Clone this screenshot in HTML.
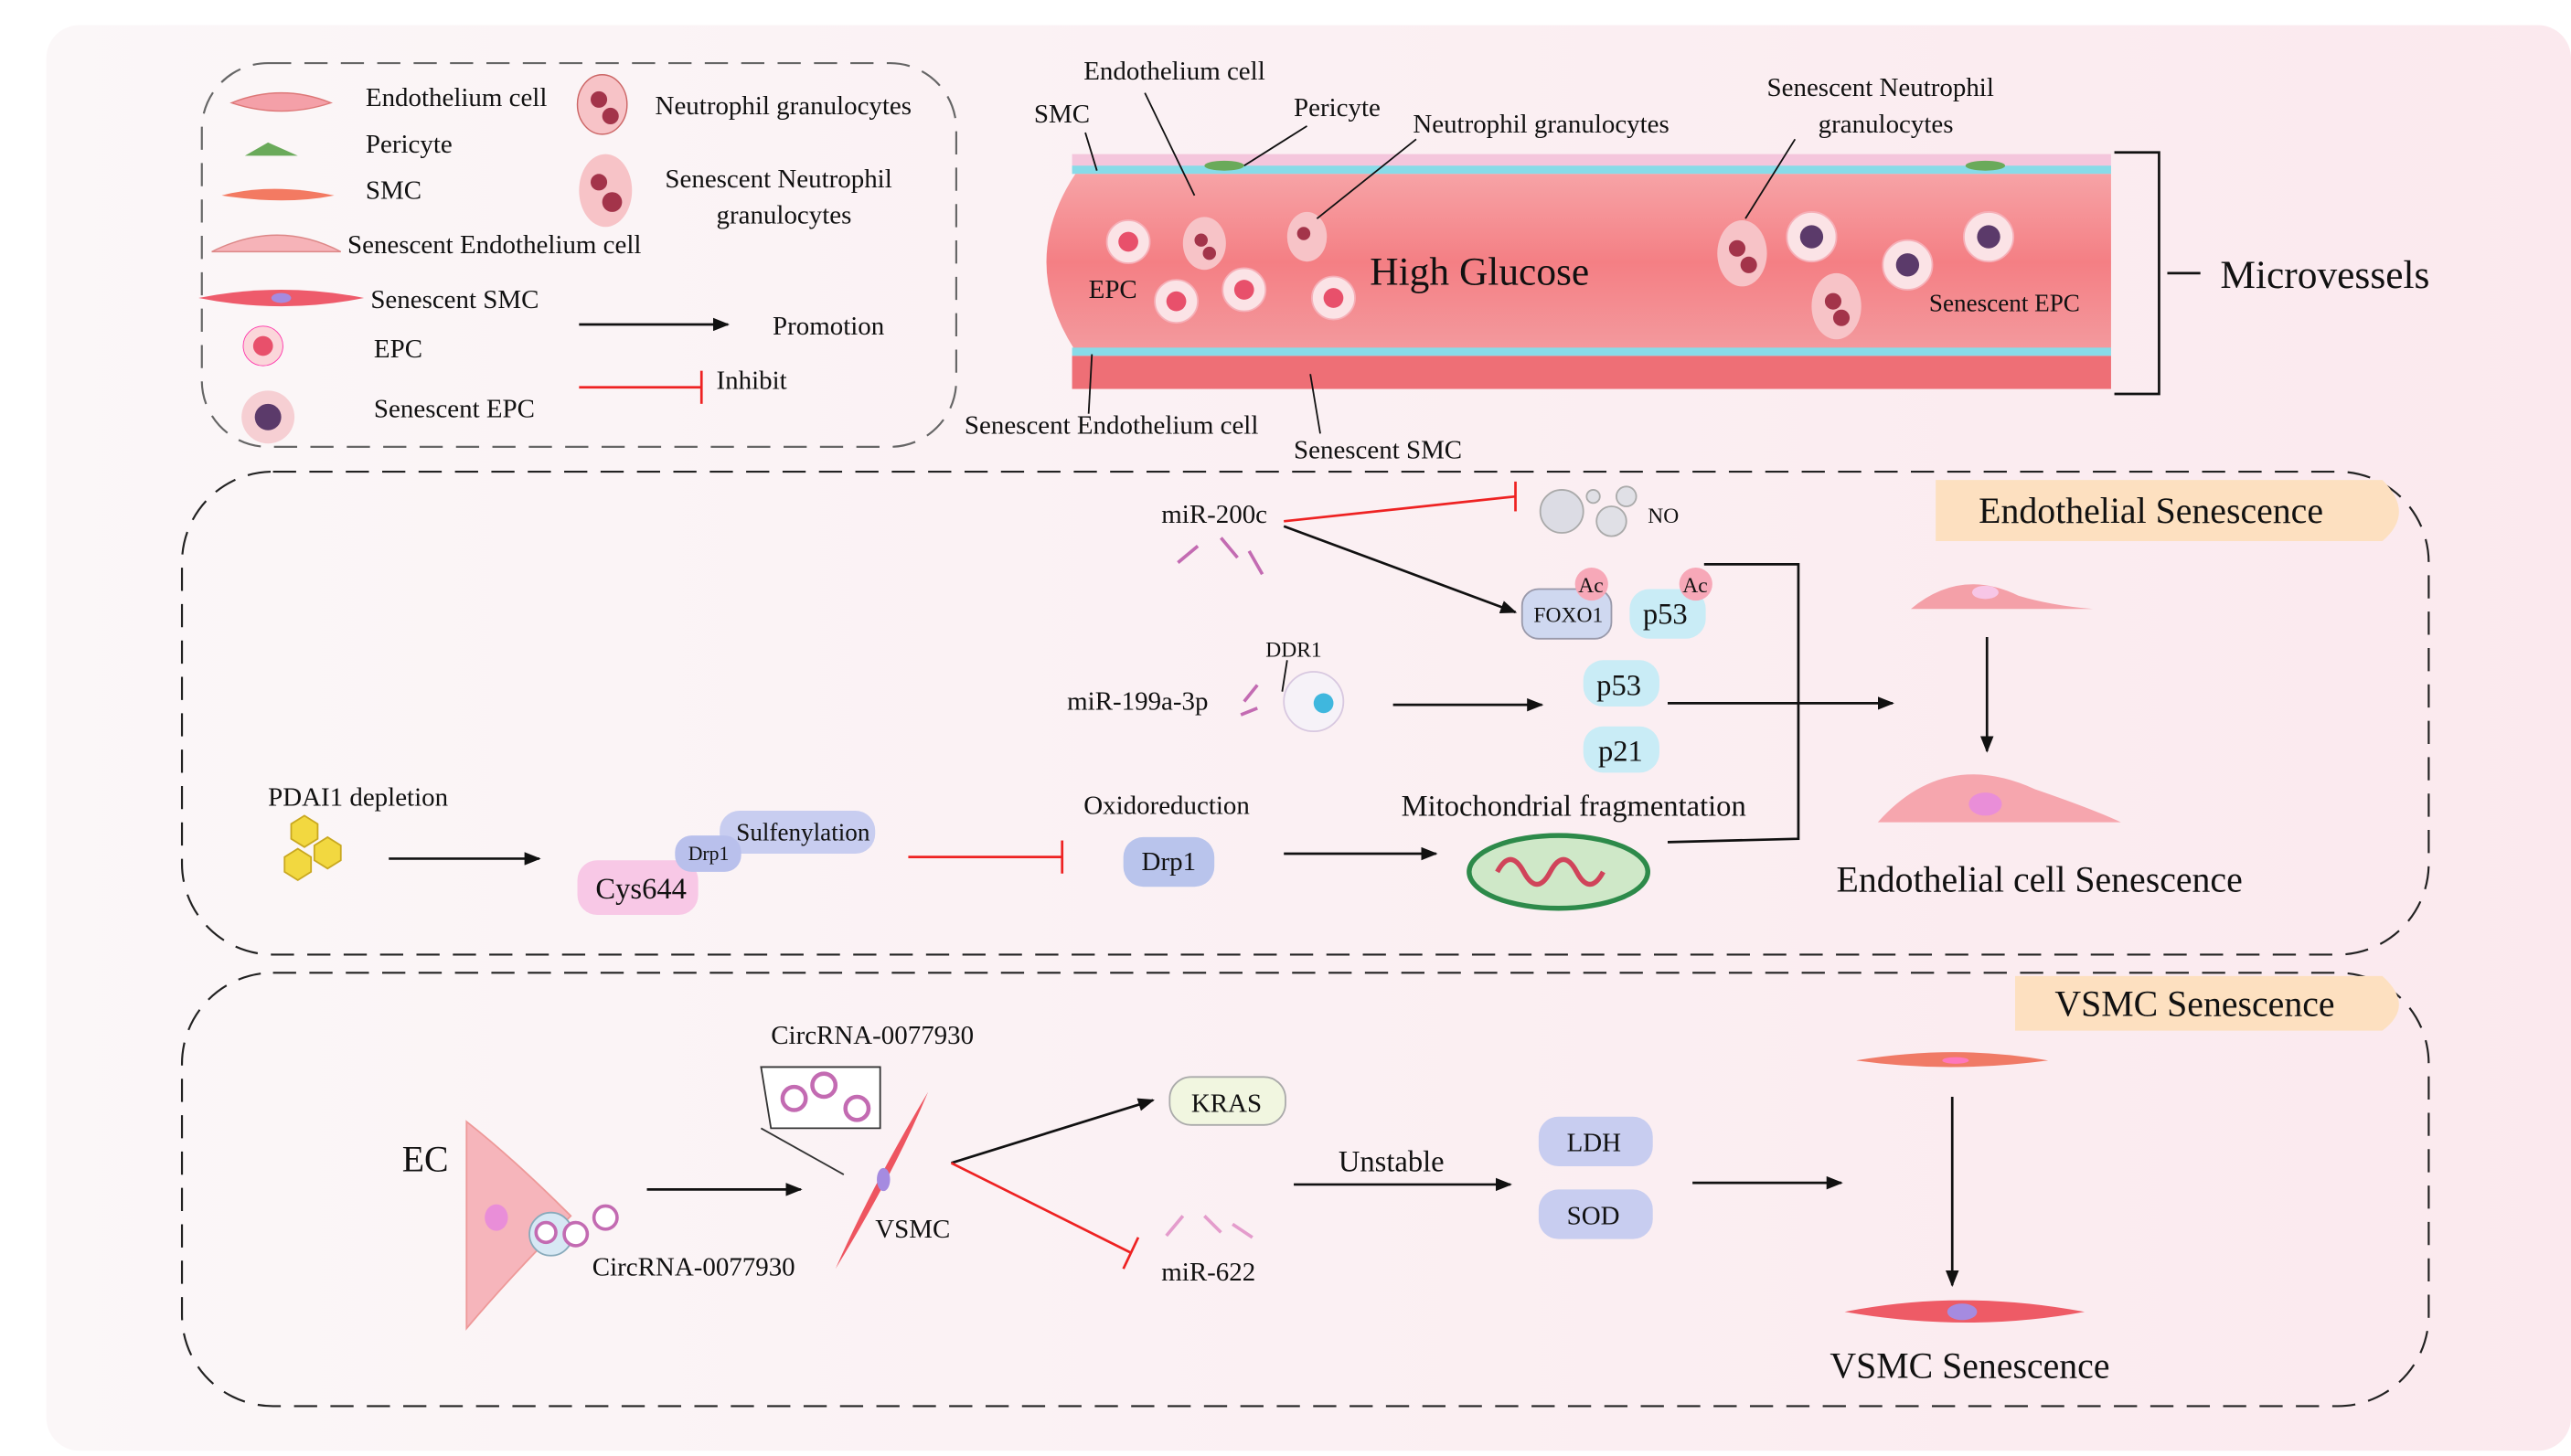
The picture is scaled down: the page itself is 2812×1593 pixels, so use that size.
<!DOCTYPE html>
<html><head><meta charset="utf-8"><style>
html,body{margin:0;padding:0;background:#fff;}
svg{display:block;}
text{font-family:"Liberation Serif",serif;fill:#111;}
</style></head><body>
<svg width="2812" height="1593" viewBox="0 0 1554 880" xmlns="http://www.w3.org/2000/svg">
<defs>
<linearGradient id="bg" x1="0" x2="1" y1="0" y2="0"><stop offset="0" stop-color="#fbf7f8"/><stop offset="1" stop-color="#fbe9ee"/></linearGradient>
<linearGradient id="ves" x1="0" x2="0" y1="0" y2="1"><stop offset="0" stop-color="#f7a3a6"/><stop offset="0.5" stop-color="#f47f84"/><stop offset="1" stop-color="#f39a9e"/></linearGradient>
<marker id="ar" markerWidth="10" markerHeight="8" refX="9" refY="4" orient="auto" markerUnits="userSpaceOnUse"><path d="M0,0 L10,4 L0,8 Z" fill="#111"/></marker>
</defs>
<rect x="0" y="0" width="1554" height="880" fill="#fff"/>
<rect x="28" y="15" width="1526" height="862" rx="20" fill="url(#bg)"/>
<!-- legend box -->
<rect x="122" y="38" width="456" height="232" rx="40" fill="none" stroke="#666" stroke-dasharray="14,8" stroke-width="1.2"/>
<g font-size="16">
<path d="M140,62 q30,-12 60,0 q-30,10 -60,0z" fill="#f4a0a8" stroke="#d77" stroke-width="0.8"/>
<text x="221" y="64">Endothelium cell</text>
<path d="M148,94 l14,-8 l18,8z" fill="#6aaa5a"/>
<text x="221" y="92">Pericyte</text>
<path d="M134,118 q30,-8 68,0 q-30,6 -68,0z" fill="#f37a62"/>
<text x="221" y="120">SMC</text>
<path d="M128,152 q40,-20 78,0 l-78,0z" fill="#f6b3b8" stroke="#d88" stroke-width="0.8"/>
<text x="210" y="153">Senescent Endothelium cell</text>
<path d="M120,180 q50,-10 100,0 q-50,10 -100,0z" fill="#ee5b6b"/>
<ellipse cx="170" cy="180" rx="6" ry="3" fill="#a58be0"/>
<text x="224" y="186">Senescent SMC</text>
<circle cx="159" cy="209" r="12" fill="#fbd6da" stroke="#f3a" stroke-width="0.5"/><circle cx="159" cy="209" r="6" fill="#e8506b"/>
<text x="226" y="216">EPC</text>
<circle cx="162" cy="252" r="16" fill="#f6cfd3"/><circle cx="162" cy="252" r="8" fill="#5b3a6a"/>
<text x="226" y="252">Senescent EPC</text>
<ellipse cx="364" cy="63" rx="15" ry="18" fill="#f7c3c7" stroke="#c66" stroke-width="0.8"/><circle cx="362" cy="60" r="5" fill="#a3344a"/><circle cx="369" cy="70" r="5" fill="#a3344a"/>
<text x="396" y="69">Neutrophil granulocytes</text>
<ellipse cx="366" cy="115" rx="16" ry="22" fill="#f7c3c7"/><circle cx="362" cy="110" r="5" fill="#a3344a"/><circle cx="370" cy="122" r="6" fill="#a3344a"/>
<text x="402" y="113">Senescent Neutrophil</text>
<text x="433" y="135">granulocytes</text>
<line x1="350" y1="196" x2="440" y2="196" stroke="#111" stroke-width="1.5" marker-end="url(#ar)"/>
<text x="467" y="202">Promotion</text>
<line x1="350" y1="234" x2="424" y2="234" stroke="#e22" stroke-width="1.5"/><line x1="424" y1="224" x2="424" y2="244" stroke="#e22" stroke-width="1.5"/>
<text x="433" y="235">Inhibit</text>
</g>
<!-- vessel -->
<rect x="648" y="93" width="628" height="10" fill="#f4c6dc"/>
<rect x="648" y="100" width="628" height="5" fill="#88dbe8"/>
<path d="M650,105 L1276,105 L1276,212 L650,212 Q615,158 650,105Z" fill="url(#ves)"/>
<rect x="648" y="210" width="628" height="5" fill="#88dbe8"/>
<rect x="648" y="215" width="628" height="20" fill="#ee6f76"/>
<ellipse cx="740" cy="100" rx="12" ry="3" fill="#6aaa5a"/><ellipse cx="1200" cy="100" rx="12" ry="3" fill="#6aaa5a"/>
<g fill="#fbe3e6" stroke="#f6b0b8"><circle cx="682" cy="146" r="13"/><circle cx="711" cy="182" r="13"/><circle cx="752" cy="175" r="13"/><circle cx="806" cy="180" r="13"/><circle cx="1095" cy="143" r="15"/><circle cx="1153" cy="160" r="15"/><circle cx="1202" cy="143" r="15"/></g>
<g fill="#e8506b"><circle cx="682" cy="146" r="6"/><circle cx="711" cy="182" r="6"/><circle cx="752" cy="175" r="6"/><circle cx="806" cy="180" r="6"/></g>
<g fill="#5b3a6a"><circle cx="1095" cy="143" r="7"/><circle cx="1153" cy="160" r="7"/><circle cx="1202" cy="143" r="7"/></g>
<g fill="#f7c3c7"><ellipse cx="728" cy="147" rx="13" ry="16"/><ellipse cx="790" cy="143" rx="12" ry="15"/><ellipse cx="1053" cy="153" rx="15" ry="20"/><ellipse cx="1110" cy="185" rx="15" ry="20"/></g>
<g fill="#a3344a"><circle cx="726" cy="145" r="4"/><circle cx="731" cy="153" r="4"/><circle cx="788" cy="141" r="4"/><circle cx="1050" cy="150" r="5"/><circle cx="1057" cy="160" r="5"/><circle cx="1108" cy="182" r="5"/><circle cx="1113" cy="192" r="5"/></g>
<g font-size="16">
<text x="655" y="48">Endothelium cell</text>
<line x1="692" y1="56" x2="722" y2="118" stroke="#111"/>
<text x="625" y="74">SMC</text><line x1="656" y1="80" x2="663" y2="103" stroke="#111"/>
<text x="782" y="70">Pericyte</text><line x1="790" y1="76" x2="752" y2="100" stroke="#111"/>
<text x="854" y="80">Neutrophil granulocytes</text><line x1="856" y1="84" x2="796" y2="132" stroke="#111"/>
<text x="1068" y="58">Senescent Neutrophil</text><text x="1099" y="80">granulocytes</text>
<line x1="1085" y1="84" x2="1055" y2="132" stroke="#111"/>
<text x="658" y="180">EPC</text>
<text x="1166" y="188" font-size="15">Senescent EPC</text>
<text x="583" y="262">Senescent Endothelium cell</text><line x1="658" y1="250" x2="660" y2="214" stroke="#111"/>
<text x="782" y="277">Senescent SMC</text><line x1="798" y1="262" x2="792" y2="226" stroke="#111"/>
</g>
<text x="828" y="172" font-size="24">High Glucose</text>
<path d="M1278,92 L1305,92 L1305,238 L1278,238" fill="none" stroke="#111" stroke-width="1.5"/>
<line x1="1310" y1="165" x2="1330" y2="165" stroke="#111" stroke-width="1.5"/>
<text x="1342" y="174" font-size="24">Microvessels</text>
<!-- middle box -->
<rect x="110" y="285" width="1358" height="292" rx="55" fill="none" stroke="#222" stroke-dasharray="14,8" stroke-width="1.2"/>
<path d="M1170,290 L1440,290 Q1460,310 1440,327 L1170,327 Z" fill="#fde0c0"/>
<text x="1196" y="316" font-size="22">Endothelial Senescence</text>
<g font-size="16">
<text x="702" y="316">miR-200c</text>
<g stroke="#c36bb2" stroke-width="2" fill="none"><path d="M712,340 l12,-10 M738,325 l10,12 M755,333 l8,14"/></g>
<line x1="776" y1="315" x2="916" y2="300" stroke="#e22" stroke-width="1.5"/><line x1="916" y1="291" x2="916" y2="309" stroke="#e22" stroke-width="1.5"/>
<circle cx="944" cy="309" r="13" fill="#dcdce4" stroke="#aaa"/><circle cx="974" cy="315" r="9" fill="#e0e0e6" stroke="#aaa"/><circle cx="983" cy="300" r="6" fill="#e0e0e6" stroke="#aaa"/><circle cx="963" cy="300" r="4" fill="#e0e0e6" stroke="#aaa"/>
<text x="996" y="316" font-size="13">NO</text>
<line x1="776" y1="318" x2="916" y2="370" stroke="#111" stroke-width="1.5" marker-end="url(#ar)"/>
<rect x="920" y="356" width="54" height="30" rx="10" fill="#cfd8f0" stroke="#99a"/><text x="927" y="376" font-size="13">FOXO1</text>
<circle cx="962" cy="353" r="10" fill="#f7a8b8"/><text x="954" y="358" font-size="13">Ac</text>
<rect x="985" y="356" width="46" height="30" rx="12" fill="#c9ecf6"/><text x="993" y="377" font-size="18">p53</text>
<circle cx="1025" cy="353" r="10" fill="#f7a8b8"/><text x="1017" y="358" font-size="13">Ac</text>
<text x="645" y="429">miR-199a-3p</text>
<text x="765" y="397" font-size="13">DDR1</text><line x1="778" y1="399" x2="775" y2="418" stroke="#111"/>
<path d="M752,424 l8,-10 M750,432 l10,-4" stroke="#c36bb2" stroke-width="2"/>
<circle cx="794" cy="424" r="18" fill="#f6f2f8" stroke="#d8c8e0"/><circle cx="800" cy="425" r="6" fill="#3fb7de"/>
<line x1="842" y1="426" x2="932" y2="426" stroke="#111" stroke-width="1.5" marker-end="url(#ar)"/>
<rect x="957" y="399" width="46" height="28" rx="12" fill="#c9ecf6"/><text x="965" y="420" font-size="18">p53</text>
<rect x="957" y="439" width="46" height="28" rx="12" fill="#c9ecf6"/><text x="966" y="460" font-size="18">p21</text>
<line x1="1008" y1="425" x2="1144" y2="425" stroke="#111" stroke-width="1.5" marker-end="url(#ar)"/>
<path d="M1030,341 L1087,341 L1087,507 L1008,509" fill="none" stroke="#111" stroke-width="1.5"/>
<text x="162" y="487">PDAI1 depletion</text>
<g fill="#f2d840" stroke="#c9a820"><polygon points="176,498 184,493 192,498 192,507 184,512 176,507"/><polygon points="190,511 198,506 206,511 206,520 198,525 190,520"/><polygon points="172,518 180,513 188,518 188,527 180,532 172,527"/></g>
<line x1="235" y1="519" x2="326" y2="519" stroke="#111" stroke-width="1.5" marker-end="url(#ar)"/>
<rect x="349" y="520" width="73" height="33" rx="12" fill="#f8c8e6"/><text x="360" y="543" font-size="18">Cys644</text>
<rect x="435" y="490" width="94" height="26" rx="12" fill="#c8cdf0"/><text x="445" y="508" font-size="15">Sulfenylation</text>
<rect x="408" y="505" width="40" height="22" rx="10" fill="#b9c0ec"/><text x="416" y="520" font-size="12">Drp1</text>
<line x1="549" y1="518" x2="642" y2="518" stroke="#e22" stroke-width="1.5"/><line x1="642" y1="508" x2="642" y2="528" stroke="#e22" stroke-width="1.5"/>
<text x="655" y="492">Oxidoreduction</text>
<rect x="679" y="506" width="55" height="30" rx="12" fill="#b9c4ec"/><text x="690" y="526" font-size="16">Drp1</text>
<line x1="776" y1="516" x2="868" y2="516" stroke="#111" stroke-width="1.5" marker-end="url(#ar)"/>
<text x="847" y="493" font-size="18">Mitochondrial fragmentation</text>
<ellipse cx="942" cy="527" rx="54" ry="22" fill="#cfe8c8" stroke="#2d8a4a" stroke-width="3"/>
<path d="M905,527 q8,-15 16,0 q8,15 16,0 q8,-15 16,0 q8,15 16,0" stroke="#d0445a" stroke-width="3" fill="none"/>
</g>
<path d="M1155,368 q30,-25 65,-8 q20,6 45,8z" fill="#f4a0a8"/><ellipse cx="1200" cy="358" rx="8" ry="4" fill="#f7c6e6"/>
<line x1="1201" y1="385" x2="1201" y2="454" stroke="#111" stroke-width="1.5" marker-end="url(#ar)"/>
<path d="M1135,497 q40,-45 95,-20 q35,12 52,20z" fill="#f6a6ae"/><ellipse cx="1200" cy="486" rx="10" ry="7" fill="#e98ed8"/>
<text x="1110" y="539" font-size="22">Endothelial cell Senescence</text>
<!-- bottom box -->
<rect x="110" y="588" width="1358" height="262" rx="55" fill="none" stroke="#222" stroke-dasharray="14,8" stroke-width="1.2"/>
<path d="M1218,590 L1440,590 Q1460,608 1440,623 L1218,623 Z" fill="#fde0c0"/>
<text x="1242" y="614" font-size="22">VSMC Senescence</text>
<g font-size="16">
<text x="243" y="708" font-size="22">EC</text>
<path d="M282,678 Q310,700 345,735 Q310,770 282,803 Z" fill="#f6b5bb" stroke="#e99"/>
<ellipse cx="300" cy="736" rx="7" ry="8" fill="#e98ed8"/>
<circle cx="333" cy="746" r="13" fill="#d7e8f4" stroke="#8ab"/>
<g fill="#fff" stroke="#c36bb2" stroke-width="2"><circle cx="330" cy="745" r="6"/><circle cx="348" cy="746" r="7"/><circle cx="366" cy="736" r="7"/></g>
<text x="358" y="771">CircRNA-0077930</text>
<line x1="391" y1="719" x2="484" y2="719" stroke="#111" stroke-width="1.5" marker-end="url(#ar)"/>
<text x="466" y="631">CircRNA-0077930</text>
<path d="M460,645 L532,645 L532,682 L466,682 Z" fill="#fff" stroke="#333"/>
<line x1="460" y1="682" x2="510" y2="710" stroke="#333"/>
<g fill="#fff" stroke="#c36bb2" stroke-width="2.5"><circle cx="480" cy="664" r="7"/><circle cx="498" cy="656" r="7"/><circle cx="518" cy="670" r="7"/></g>
<path d="M561,660 Q540,710 505,767 Q528,715 561,660Z" fill="#ee5560"/><ellipse cx="534" cy="713" rx="4" ry="7" fill="#a58be0"/>
<text x="529" y="748">VSMC</text>
<line x1="575" y1="703" x2="697" y2="665" stroke="#111" stroke-width="1.5" marker-end="url(#ar)"/>
<line x1="575" y1="703" x2="683" y2="757" stroke="#e22" stroke-width="1.5"/><line x1="688" y1="748" x2="679" y2="767" stroke="#e22" stroke-width="1.5"/>
<rect x="707" y="651" width="70" height="29" rx="13" fill="#f1f6e0" stroke="#aaa"/><text x="720" y="672">KRAS</text>
<path d="M705,747 l10,-12 M728,735 l10,10 M745,740 l12,8" stroke="#e49ccc" stroke-width="2"/>
<text x="702" y="774">miR-622</text>
<text x="809" y="708" font-size="18">Unstable</text>
<line x1="782" y1="716" x2="913" y2="716" stroke="#111" stroke-width="1.5" marker-end="url(#ar)"/>
<rect x="930" y="675" width="69" height="30" rx="12" fill="#c8cdf0"/><text x="947" y="696">LDH</text>
<rect x="930" y="719" width="69" height="30" rx="12" fill="#c8cdf0"/><text x="947" y="740">SOD</text>
<line x1="1023" y1="715" x2="1113" y2="715" stroke="#111" stroke-width="1.5" marker-end="url(#ar)"/>
</g>
<path d="M1122,641 q60,-10 116,0 q-60,8 -116,0z" fill="#f07a66"/><ellipse cx="1182" cy="641" rx="8" ry="2" fill="#f7b"/>
<line x1="1180" y1="663" x2="1180" y2="777" stroke="#111" stroke-width="1.5" marker-end="url(#ar)"/>
<path d="M1115,793 q70,-14 145,0 q-70,13 -145,0z" fill="#ee5b66"/><ellipse cx="1186" cy="793" rx="9" ry="5" fill="#a58be0"/>
<text x="1106" y="833" font-size="22">VSMC Senescence</text>
</svg>
</body></html>
